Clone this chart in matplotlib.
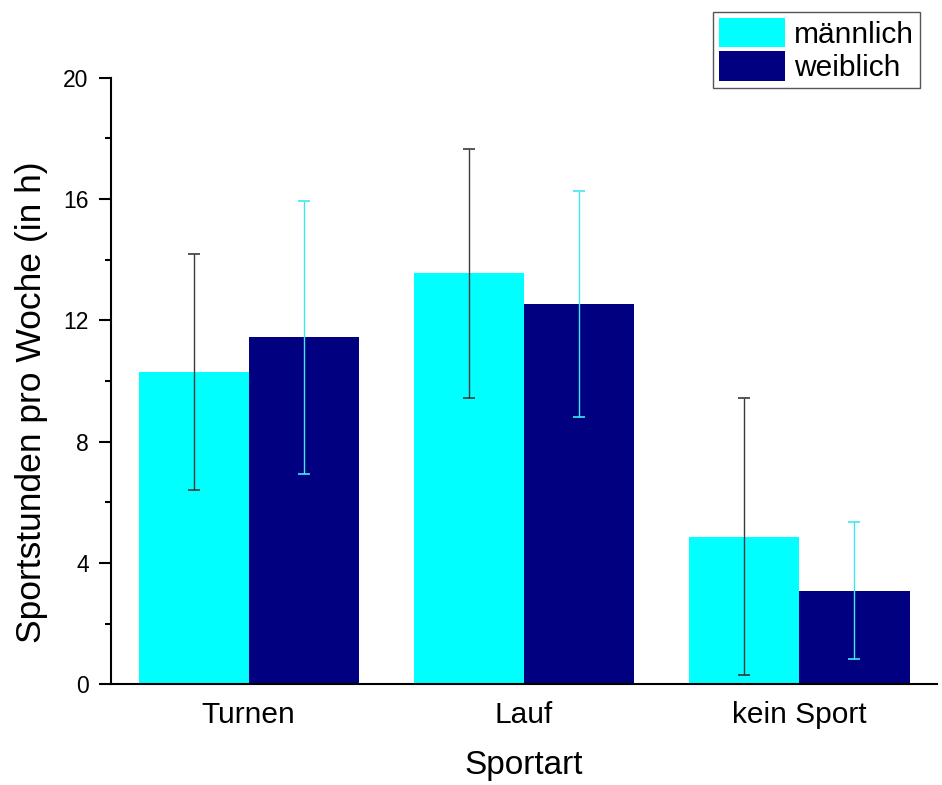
import matplotlib

matplotlib.use("Agg")
import matplotlib.pyplot as plt
import numpy as np
from matplotlib.ticker import MultipleLocator

plt.rcParams["font.family"] = ["Liberation Sans", "DejaVu Sans"]

# values (hours per week, mean and +/- spread)
sports = ["Turnen", "Lauf", "kein Sport"]
male_mean = [10.3, 13.55, 4.86]
male_err = [3.89, 4.11, 4.57]
female_mean = [11.44, 12.54, 3.09]
female_err = [4.51, 3.73, 2.27]
series_labels = ["männlich", "weiblich"]

CYAN = "#00FFFF"
NAVY = "#000080"

fig = plt.figure(figsize=(9.42, 7.85), dpi=100)
ax = fig.add_axes([0.1178, 0.1283, 0.877, 0.7727])

x = np.arange(len(sports))
w = 0.4
bm = ax.bar(x - w / 2, male_mean, width=w, color=CYAN, label=series_labels[0], zorder=2)
bf = ax.bar(x + w / 2, female_mean, width=w, color=NAVY, label=series_labels[1], zorder=2)
ax.errorbar(x - w / 2, male_mean, yerr=male_err, fmt="none", ecolor="#3a3a3a",
            elinewidth=1, capsize=4, capthick=1.2, zorder=3)
ax.errorbar(x + w / 2, female_mean, yerr=female_err, fmt="none", ecolor="#3FE6F2",
            elinewidth=1, capsize=4, capthick=1.2, zorder=3)

ax.set_xlim(-0.5, 2.5)
ax.set_ylim(0, 20)
ax.set_xticks(x)
ax.set_xticklabels(sports, fontsize=21.5)
ax.yaxis.set_major_locator(MultipleLocator(4))
ax.yaxis.set_minor_locator(MultipleLocator(2))
ax.tick_params(axis="y", which="major", length=9, width=1.5, labelsize=16.5, pad=7)
ax.tick_params(axis="y", which="minor", length=4.5, width=1.5)
ax.tick_params(axis="x", length=0, pad=12)
for side in ("top", "right"):
    ax.spines[side].set_visible(False)
ax.spines["left"].set_linewidth(1.5)
ax.spines["bottom"].set_linewidth(1.5)

ax.set_ylabel("Sportstunden pro Woche (in h)", fontsize=25.5)
ax.yaxis.set_label_coords(-0.076, 0.465)
ax.set_xlabel("Sportart", fontsize=24, labelpad=15)

leg = fig.legend(handles=[bm, bf], loc="upper left", bbox_to_anchor=(0.757, 0.985),
                 fontsize=21.5, handlelength=2.2, handleheight=1.15, labelspacing=0.08,
                 borderpad=0.2, handletextpad=0.3, fancybox=False, framealpha=1,
                 edgecolor="#555555", borderaxespad=0)
leg.get_frame().set_linewidth(1)

fig.savefig("out.png", dpi=100)
